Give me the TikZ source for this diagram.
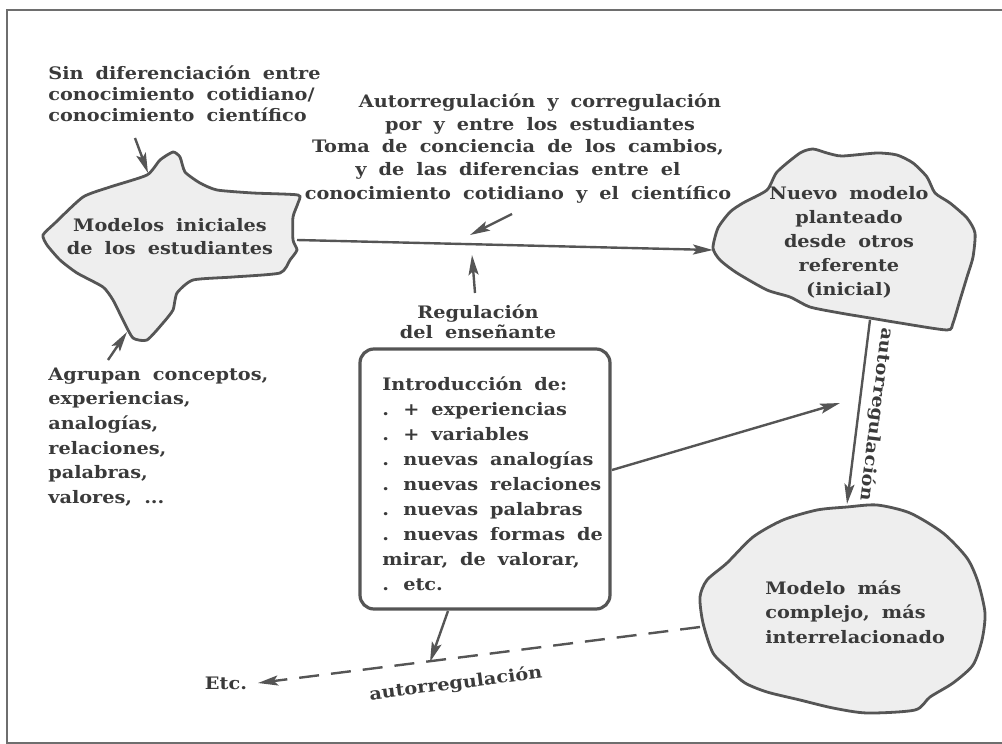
\documentclass[tikz,border=0pt]{standalone}
\usepackage{fontspec}
\setmainfont{DejaVu Serif}[FakeStretch=1.12,WordSpace=1.8]
\usetikzlibrary{arrows.meta}

\definecolor{tinta}{HTML}{3A3A3A}
\definecolor{trazo}{HTML}{555555}
\definecolor{relleno}{HTML}{EEEEEE}

\newcommand{\espacios}{\spaceskip=6pt plus 1pt\relax}

\tikzset{
  texto/.style={text=tinta, inner sep=0pt, align=left,
    font=\bfseries\fontsize{8.6}{#1}\selectfont},
  texto/.default=10.5,
  ancho/.style={font={\bfseries\fontsize{8.6}{#1}\selectfont\espacios}},
  flecha/.style={draw=trazo, line width=1.2pt,
    -{Stealth[length=10pt,width=5pt,inset=2pt]}},
  mancha/.style={draw=trazo, line width=1.4pt, fill=relleno},
  caja/.style={draw=trazo, line width=1.6pt, rounded corners=7pt,
    minimum width=125pt, minimum height=130pt, inner sep=0pt}
}

\begin{document}
\begin{tikzpicture}[x=0.5pt,y=-0.5pt]
  \useasboundingbox (0,0) rectangle (1002,744);
  \draw[trazo!85, line width=1pt] (1002,10) -- (7,10) -- (7,743) -- (1002,743);

  % manchas
  \draw[mancha] plot[smooth cycle, tension=0.35] coordinates {
    (43,235) (55,223) (83,197) (110,187) (147,175) (160,160) (173,152)
    (180,157) (185,172) (200,183) (217,190) (253,193) (298,195) (298,203)
    (293,217) (293,240) (297,250) (290,260) (280,273) (233,277) (193,280)
    (177,293) (173,310) (163,323) (147,340) (133,338) (123,320) (113,300)
    (103,287) (77,273) (60,260) (47,245)};
  \draw[mancha] plot[smooth cycle, tension=0.4] coordinates {
    (713,248) (718,228) (730,212) (743,203) (767,190) (777,172) (800,153)
    (813,149) (827,153) (842,156) (877,153) (897,155) (913,163) (927,177)
    (935,193) (950,203) (967,218) (975,233) (973,257) (967,277) (960,300)
    (953,323) (947,330) (900,323) (870,318) (840,313) (810,307) (790,297)
    (767,290) (737,273) (720,260)};
  \draw[mancha] plot[smooth cycle, tension=0.45] coordinates {
    (847,507) (877,505) (910,513) (943,533) (967,558) (978,582) (985,613)
    (982,640) (973,665) (953,683) (930,697) (915,710) (867,713) (833,708)
    (800,700) (767,692) (745,683) (730,670) (713,653) (703,623) (700,597)
    (707,580) (727,563) (753,537) (783,520) (817,510)};

  % textos
  \node[texto, anchor=west] (sinDif) at (48,94)
    {Sin diferenciación entre\\conocimiento cotidiano/\\conocimiento científico};
  \node[texto=11.2, align=center] (autoReg) at (540,114)
    {Autorregulación y corregulación\\por y entre los estudiantes};
  \node[texto=11.8, align=center] (tomaConc) at (518,171)
    {Toma de conciencia de los cambios,\\y de las diferencias entre el\\conocimiento cotidiano y el científico};
  \node[texto=11.5, align=center] (modIni) at (170,237)
    {Modelos iniciales\\de los estudiantes};
  \node[texto=12, align=center] (nuevo) at (849,242)
    {Nuevo modelo\\planteado\\desde otros\\referente\\(inicial)};
  \node[texto=12.3, anchor=west] (agrupan) at (48,437)
    {Agrupan conceptos,\\experiencias,\\analogías,\\relaciones,\\palabras,\\valores, ...};
  \node[texto=10, align=center] (regul) at (478,322)
    {Regulación\\del enseñante};
  \node[caja] (intro) at (485,479) {};
  \node[texto, ancho=12.5, anchor=west] (introTxt) at (382,484)
    {Introducción de:\\. + experiencias\\. + variables\\. nuevas analogías\\. nuevas relaciones\\. nuevas palabras\\. nuevas formas de\\mirar, de valorar,\\. etc.};
  \node[texto=12.2, anchor=west] (complejo) at (765,612)
    {Modelo más\\complejo, más\\interrelacionado};
  \node[texto] (etc) at (226,683) {Etc.};

  % puntos de llegada
  \coordinate (sinDif-s) at (135,138);
  \coordinate (modIni-n) at (148,173);
  \coordinate (agrupan-n) at (108,360);
  \coordinate (modIni-s) at (127,332);
  \coordinate (modIni-e) at (297,240);
  \coordinate (nuevo-w) at (713,250);
  \coordinate (toma-s) at (512,214);
  \coordinate (linea-a) at (470,235);
  \coordinate (regul-n) at (475,293);
  \coordinate (linea-b) at (472,255);
  \coordinate (intro-e) at (612,470);
  \coordinate (libre) at (840,403);
  \coordinate (nuevo-s) at (870,320);
  \coordinate (complejo-n) at (847,504);
  \coordinate (complejo-w) at (700,627);
  \coordinate (etc-e) at (258,683);
  \coordinate (intro-s) at (448,611);
  \coordinate (punteada) at (430,662);

  % flechas
  \draw[flecha] (sinDif-s) -- (modIni-n);
  \draw[flecha] (agrupan-n) -- (modIni-s);
  \draw[flecha] (modIni-e) -- (nuevo-w);
  \draw[flecha] (toma-s) -- (linea-a);
  \draw[flecha] (regul-n) -- (linea-b);
  \draw[flecha] (intro-e) -- (libre);
  \draw[flecha] (nuevo-s) -- node[texto, midway, sloped, allow upside down,
    above=4pt] {autorregulación} (complejo-n);
  \draw[flecha, dash pattern=on 10pt off 6pt] (complejo-w) -- node[texto,
    pos=0.56, sloped, below=8pt] {autorregulación} (etc-e);
  \draw[flecha] (intro-s) -- (punteada);
\end{tikzpicture}
\end{document}
